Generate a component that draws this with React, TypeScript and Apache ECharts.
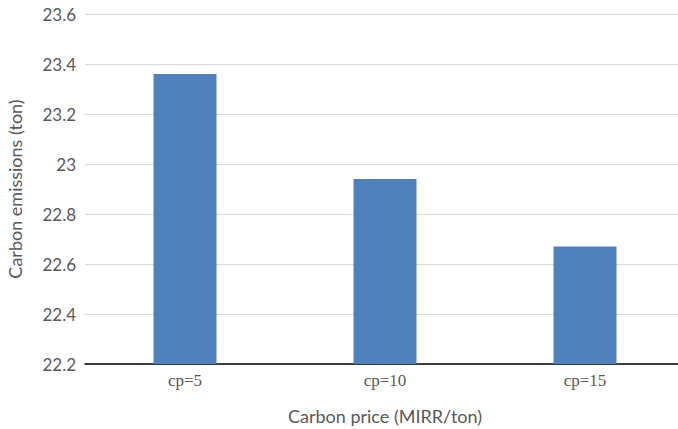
import React, { useEffect, useRef } from "react";
import * as echarts from "echarts";

const categories = ["cp=5", "cp=10", "cp=15"];
const emissions = [23.36, 22.94, 22.67];
const yMin = 22.2;
const yMax = 23.6;
const yInterval = 0.2;

export default function App() {
  const ref = useRef<HTMLDivElement>(null);
  useEffect(() => {
    if (!ref.current) return;
    const chart = echarts.init(ref.current, undefined, { renderer: "svg" });
    chart.setOption({
      animation: false,
      backgroundColor: "#ffffff",
      grid: {
        left: 85,
        top: 14,
        width: 600,
        height: 350,
        containLabel: false,
        outerBoundsMode: "none",
      },
      xAxis: {
        type: "category",
        data: categories,
        name: "Carbon price (MIRR/ton)",
        nameLocation: "middle",
        nameGap: 43,
        nameTextStyle: { fontFamily: "Lato", fontSize: 18, color: "#595959" },
        axisLine: { lineStyle: { color: "#000000", width: 1.5 } },
        axisTick: { show: false },
        axisLabel: { fontFamily: "Liberation Serif", fontSize: 17, color: "#595959", margin: 8 },
      },
      yAxis: {
        type: "value",
        min: yMin,
        max: yMax,
        interval: yInterval,
        name: "Carbon emissions (ton)",
        nameLocation: "middle",
        nameGap: 61,
        nameTextStyle: { fontFamily: "Lato", fontSize: 18, color: "#595959" },
        axisLine: { show: false },
        axisTick: { show: false },
        axisLabel: {
          fontFamily: "Lato",
          fontSize: 17,
          color: "#595959",
          margin: 9,
          formatter: (v: number) => String(parseFloat(v.toFixed(1))),
        },
        splitLine: { lineStyle: { color: "#D9D9D9", width: 1 } },
      },
      series: [
        {
          type: "bar",
          data: emissions,
          barWidth: 63,
          itemStyle: { color: "#4F81BD" },
        },
      ],
    });
    return () => chart.dispose();
  }, []);
  return (
    <div
      ref={ref}
      style={{ position: "absolute", left: 0, top: 0, width: 678, height: 429 }}
    />
  );
}
